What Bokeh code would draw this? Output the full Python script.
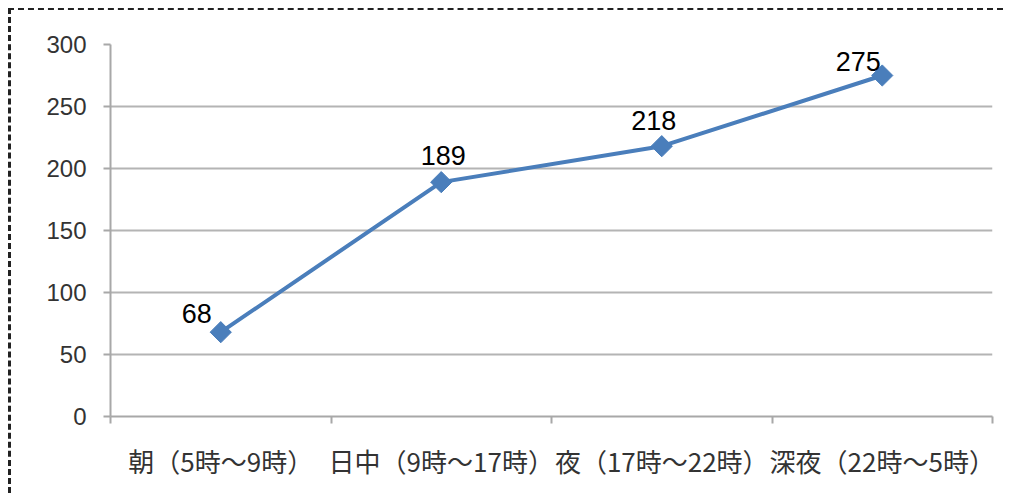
from bokeh.plotting import figure
from bokeh.models import Range1d, FixedTicker, ColumnDataSource, LabelSet
from bokeh.core.properties import value
from bokeh.embed import file_html
from bokeh.resources import INLINE
import math

# ---- data ----
categories = ["朝（5時～9時）", "日中（9時～17時）", "夜（17時～22時）", "深夜（22時～5時）"]
values = [68, 189, 218, 275]
y_ticks = [0, 50, 100, 150, 200, 250, 300]

# ---- styling (label nudges in screen px) ----
label_dx = [-24, 2, -8, -24]
label_dy = [-19, -27, -26, -14]

xs = [i + 0.5 for i in range(len(categories))]
src = ColumnDataSource(dict(x=xs, y=values, lab=[str(v) for v in values],
                            dx=label_dx, dy=[-d for d in label_dy]))

W, H = 995, 485
p = figure(width=W, height=H, output_backend="svg", toolbar_location=None,
           x_range=Range1d(0, len(categories)), y_range=Range1d(0, 300),
           min_border_left=99, min_border_right=14, min_border_top=34, min_border_bottom=79)
p.styles = {"border-top": "2px dashed #222", "border-left": "3px dashed #222",
            "margin-top": "8px", "margin-left": "8px"}
p.outline_line_color = None
p.background_fill_color = "white"
p.border_fill_color = "white"

grid_col = "#b4b4b4"
axis_col = "#a8a8a8"

p.xgrid.visible = False
p.ygrid.ticker = FixedTicker(ticks=y_ticks)
p.ygrid.grid_line_color = grid_col
p.ygrid.grid_line_width = 2

# y axis
ya = p.yaxis[0]
ya.ticker = FixedTicker(ticks=y_ticks)
ya.axis_line_color = axis_col
ya.axis_line_width = 2
ya.major_tick_line_color = axis_col
ya.major_tick_line_width = 2
ya.major_tick_out = 7
ya.major_tick_in = 0
ya.minor_tick_line_color = None
ya.major_label_standoff = 17
ya.major_label_text_font = "Liberation Sans"
ya.major_label_text_font_size = "24px"
ya.major_label_text_color = "#333333"

# x axis
xa = p.xaxis[0]
xa.ticker = FixedTicker(ticks=xs, minor_ticks=list(range(len(categories) + 1)))
xa.major_label_overrides = {x: c for x, c in zip(xs, categories)}
xa.axis_line_color = axis_col
xa.axis_line_width = 2
xa.major_tick_line_color = None
xa.major_tick_out = 0
xa.major_tick_in = 0
xa.minor_tick_line_color = axis_col
xa.minor_tick_line_width = 2
xa.minor_tick_out = 7
xa.minor_tick_in = 0
xa.major_label_standoff = 18
xa.major_label_text_font = "Noto Sans CJK JP"
xa.major_label_text_font_size = "26px"
xa.major_label_text_color = "#333333"

blue = "#4a7ebb"
p.line("x", "y", source=src, line_color=blue, line_width=4)
p.scatter("x", "y", source=src, marker="square", angle=math.pi / 4, size=15,
          fill_color=blue, line_color=blue)

labels = LabelSet(x="x", y="y", text="lab", source=src, x_offset="dx", y_offset="dy",
                  text_align="center", text_baseline="middle",
                  text_font=value("Liberation Sans"), text_font_size="27px",
                  text_color="black")
p.add_layout(labels)

open("out.html", "w").write(file_html(p, INLINE))
